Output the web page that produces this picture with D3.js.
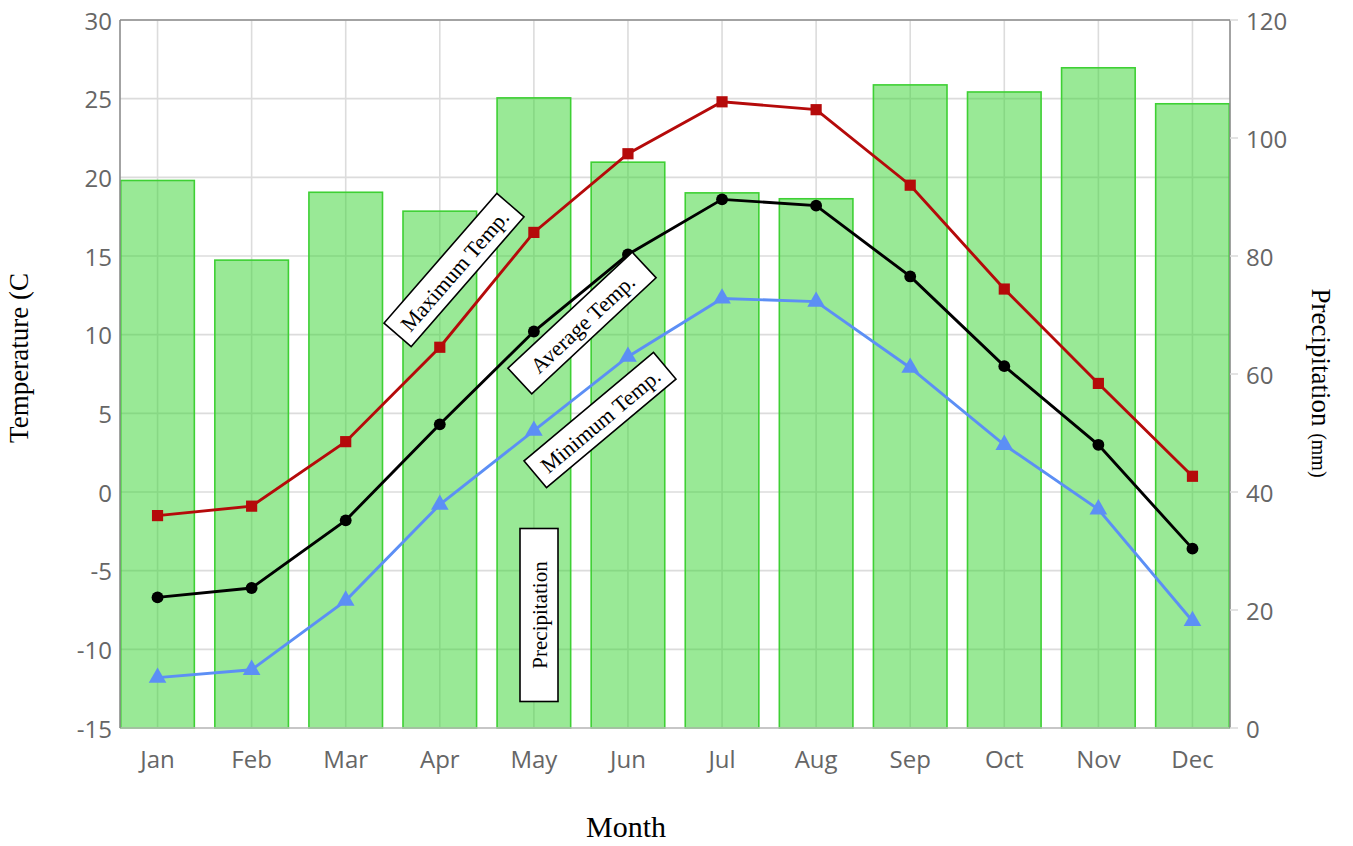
<!DOCTYPE html>
<html>
<head>
<meta charset="utf-8">
<script src="https://cdn.jsdelivr.net/npm/d3@7/dist/d3.min.js"></script>
<style>
  html, body { margin: 0; padding: 0; background: #fff; }
  svg { display: block; }
</style>
</head>
<body>
<svg id="chart" width="1353" height="846"></svg>
<script>
// ---- Data ----
const months = ["Jan","Feb","Mar","Apr","May","Jun","Jul","Aug","Sep","Oct","Nov","Dec"];
const precipitation = [92.8, 79.3, 90.8, 87.6, 106.8, 95.9, 90.7, 89.7, 109.0, 107.8, 111.9, 105.8];
const maxTemp = [-1.5, -0.9, 3.2, 9.2, 16.5, 21.5, 24.8, 24.3, 19.5, 12.9, 6.9, 1.0];
const avgTemp = [-6.7, -6.1, -1.8, 4.3, 10.2, 15.1, 18.6, 18.2, 13.7, 8.0, 3.0, -3.6];
const minTemp = [-11.8, -11.3, -6.9, -0.8, 3.9, 8.6, 12.3, 12.1, 7.9, 3.0, -1.1, -8.2];
const tempTicks = [-15, -10, -5, 0, 5, 10, 15, 20, 25, 30];
const precipTicks = [0, 20, 40, 60, 80, 100, 120];
const annotationLabels = ["Maximum Temp.", "Average Temp.", "Minimum Temp.", "Precipitation"];

// ---- Layout ----
const svg = d3.select("#chart");
const L = 120, R = 1230, T = 20, B = 728;

const x = d3.scaleBand().domain(months).range([L, R]).paddingInner(0.202).paddingOuter(0);
const cx = m => x(m) + x.bandwidth() / 2;
const yT = d3.scaleLinear().domain([-15, 30]).range([B, T]);
const yP = d3.scaleLinear().domain([0, 120]).range([B, T]);

const sans = "'Open Sans', 'Noto Sans', sans-serif";
const serif = "'Liberation Serif', 'Times New Roman', serif";

// gridlines
const grid = svg.append("g");
grid.selectAll("line.h").data(tempTicks).join("line")
  .attr("x1", L).attr("x2", R)
  .attr("y1", d => yT(d)).attr("y2", d => yT(d))
  .attr("stroke", "#dcdcdc").attr("stroke-width", 1.6);
grid.selectAll("line.v").data(months).join("line")
  .attr("x1", d => cx(d)).attr("x2", d => cx(d))
  .attr("y1", T).attr("y2", B)
  .attr("stroke", "#dcdcdc").attr("stroke-width", 1.6);

// bars
svg.append("g").selectAll("rect").data(months).join("rect")
  .attr("x", d => x(d) + 0.75)
  .attr("width", x.bandwidth() - 1.5)
  .attr("y", (d, i) => yP(precipitation[i]))
  .attr("height", (d, i) => B - yP(precipitation[i]))
  .attr("fill", "rgba(52,212,46,0.5)")
  .attr("stroke", "rgb(62,208,52)")
  .attr("stroke-width", 1.6);

// lines
const series = [
  { data: maxTemp, color: "#b50a0a", symbol: d3.symbolSquare, size: 125 },
  { data: avgTemp, color: "#000000", symbol: d3.symbolCircle, size: 110 },
  { data: minTemp, color: "#5c8ff5", symbol: d3.symbolTriangle, size: 135 }
];
const line = d3.line().x((d, i) => cx(months[i])).y(d => yT(d));
series.forEach(s => {
  svg.append("path").datum(s.data)
    .attr("d", line).attr("fill", "none")
    .attr("stroke", s.color).attr("stroke-width", 2.9);
  svg.append("g").selectAll("path").data(s.data).join("path")
    .attr("d", d3.symbol().type(s.symbol).size(s.size))
    .attr("transform", (d, i) => `translate(${cx(months[i])},${yT(d)})`)
    .attr("fill", s.color);
});

// axes frame
const frame = svg.append("g").attr("stroke", "#8c8c8c").attr("stroke-width", 1.6);
frame.append("line").attr("x1", L).attr("x2", R).attr("y1", T).attr("y2", T);
frame.append("line").attr("x1", L).attr("x2", R).attr("y1", B).attr("y2", B).attr("stroke", "#bdbdbd");
frame.append("line").attr("x1", L).attr("x2", L).attr("y1", T).attr("y2", B);
frame.append("line").attr("x1", R).attr("x2", R).attr("y1", T).attr("y2", B);

// left tick labels
svg.append("g").selectAll("text").data(tempTicks).join("text")
  .attr("x", L - 8).attr("y", d => yT(d))
  .attr("text-anchor", "end").attr("dominant-baseline", "central")
  .attr("font-family", sans).attr("font-size", 24).attr("fill", "#666")
  .text(d => d);

// right ticks and labels
svg.append("g").selectAll("line").data(precipTicks).join("line")
  .attr("x1", R).attr("x2", R + 8)
  .attr("y1", d => yP(d)).attr("y2", d => yP(d))
  .attr("stroke", "#dcdcdc").attr("stroke-width", 1.6);
svg.append("g").selectAll("text").data(precipTicks).join("text")
  .attr("x", R + 16).attr("y", d => yP(d))
  .attr("text-anchor", "start").attr("dominant-baseline", "central")
  .attr("font-family", sans).attr("font-size", 24).attr("fill", "#666")
  .text(d => d);

// month labels
svg.append("g").selectAll("text").data(months).join("text")
  .attr("x", d => cx(d)).attr("y", 768)
  .attr("text-anchor", "middle")
  .attr("font-family", sans).attr("font-size", 24).attr("fill", "#666")
  .text(d => d);

// axis titles
svg.append("text")
  .attr("transform", "translate(626,837)")
  .attr("text-anchor", "middle")
  .attr("font-family", serif).attr("font-size", 30).attr("fill", "#000")
  .text("Month");
svg.append("text")
  .attr("transform", "translate(28,358) rotate(-90)")
  .attr("text-anchor", "middle")
  .attr("font-family", serif).attr("font-size", 27).attr("fill", "#000")
  .text("Temperature (C");
const pt = svg.append("text")
  .attr("transform", "translate(1312,383) rotate(90)")
  .attr("text-anchor", "middle")
  .attr("font-family", serif).attr("font-size", 27).attr("fill", "#000");
pt.append("tspan").text("Precipitation ");
pt.append("tspan").attr("font-size", 20).text("(mm)");

// annotations
const annots = [
  { label: annotationLabels[0], cx: 454, cy: 270, angle: -49, w: 172, h: 36, fs: 22 },
  { label: annotationLabels[1], cx: 582, cy: 323, angle: -43, w: 170, h: 35, fs: 22 },
  { label: annotationLabels[2], cx: 600, cy: 420, angle: -40, w: 169, h: 35, fs: 22 },
  { label: annotationLabels[3], cx: 539, cy: 615, angle: -90, w: 173, h: 38, fs: 21 }
];
annots.forEach(a => {
  const g = svg.append("g").attr("transform", `translate(${a.cx},${a.cy}) rotate(${a.angle})`);
  g.append("rect")
    .attr("x", -a.w / 2).attr("y", -a.h / 2).attr("width", a.w).attr("height", a.h)
    .attr("fill", "#fff").attr("stroke", "#000").attr("stroke-width", 1.6);
  g.append("text")
    .attr("x", 0).attr("y", 1)
    .attr("text-anchor", "middle").attr("dominant-baseline", "central")
    .attr("font-family", serif).attr("font-size", a.fs).attr("fill", "#000")
    .text(a.label);
});
</script>
</body>
</html>
